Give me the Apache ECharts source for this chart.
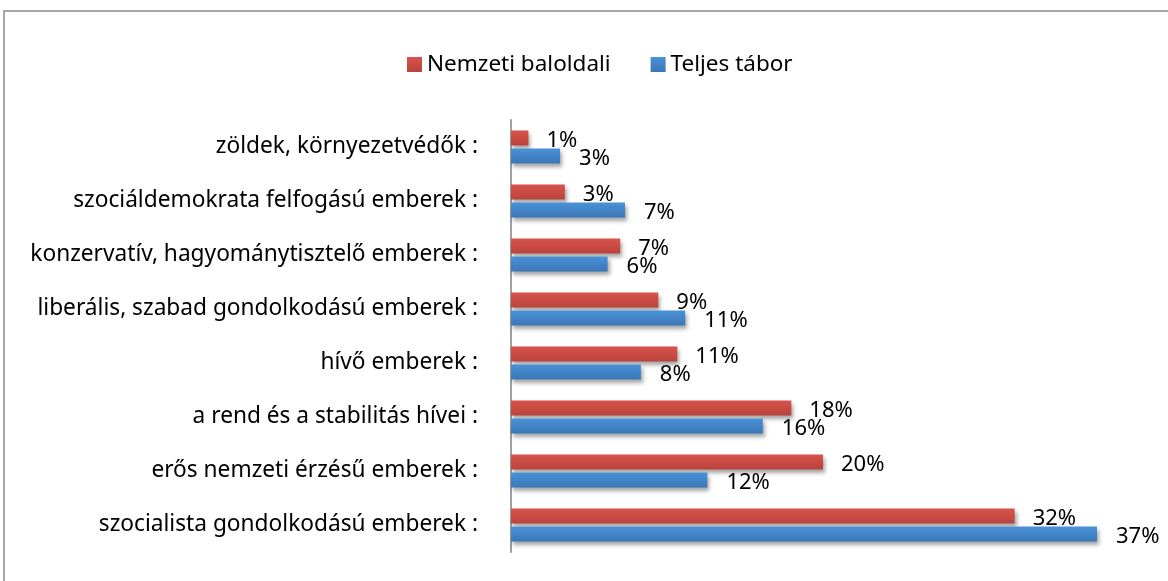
<!DOCTYPE html>
<html>
<head>
<meta charset="utf-8">
<script src="https://cdn.jsdelivr.net/npm/echarts@6/dist/echarts.min.js"></script>
<style>
  html, body { margin: 0; padding: 0; background: #fff; }
  #main { width: 1168px; height: 581px; }
</style>
</head>
<body>
<div id="main"></div>
<script>
// kategóriák felülről lefelé
const categories = [
  'zöldek, környezetvédők :',
  'szociáldemokrata felfogású emberek :',
  'konzervatív, hagyománytisztelő emberek :',
  'liberális, szabad gondolkodású emberek :',
  'hívő emberek :',
  'a rend és a stabilitás hívei :',
  'erős nemzeti érzésű emberek :',
  'szocialista gondolkodású emberek :'
]
// a feliratok kerekített értékek, a sávok hossza a képről becsülve
const nemzetiBaloldali = [1.1, 3.4, 6.9, 9.3, 10.5, 17.7, 19.7, 31.8]
const teljesTabor = [3.1, 7.2, 6.1, 11.0, 8.2, 15.9, 12.4, 37.0]

const font = 'Noto Sans'

function grad(top, bottom) {
  return new echarts.graphic.LinearGradient(0, 0, 0, 1, [
    { offset: 0, color: top },
    { offset: 1, color: bottom }
  ])
}

function pct(p) {
  return Math.round(p.value) + '%'
}

const chart = echarts.init(document.getElementById('main'), null, { renderer: 'canvas' })

const option = {
  animation: false,
  textStyle: { fontFamily: font },
  graphic: [{
    type: 'rect',
    shape: { x: 4, y: 11, width: 1200, height: 620 },
    style: { fill: 'none', stroke: '#a6a6a6', lineWidth: 2 },
    silent: true
  }],
  legend: {
    data: ['Nemzeti baloldali', 'Teljes tábor'],
    top: 48,
    left: 402,
    itemWidth: 15,
    itemHeight: 15,
    itemGap: 40,
    icon: 'rect',
    textStyle: { fontSize: 22.5, color: '#000', fontFamily: font }
  },
  grid: {
    left: 511,
    right: 71,
    top: 120,
    bottom: 29
  },
  xAxis: {
    type: 'value',
    min: 0,
    max: 37,
    show: false
  },
  yAxis: {
    type: 'category',
    inverse: true,
    data: categories,
    axisLine: { show: true, lineStyle: { color: '#a0a0a0', width: 2 } },
    axisTick: { show: false },
    axisLabel: { margin: 33, fontSize: 22.7, color: '#000', fontFamily: font }
  },
  series: [
    {
      name: 'Nemzeti baloldali',
      type: 'bar',
      data: nemzetiBaloldali,
      barWidth: 15,
      barGap: '20%',
      itemStyle: {
        color: grad('#d9534b', '#b8433c'),
        shadowColor: 'rgba(0,0,0,0.35)',
        shadowBlur: 4,
        shadowOffsetX: 2,
        shadowOffsetY: 3
      },
      label: {
        show: true,
        position: 'right',
        distance: 18,
        offset: [0, 3],
        formatter: pct,
        fontSize: 22,
        color: '#000',
        fontFamily: font
      }
    },
    {
      name: 'Teljes tábor',
      type: 'bar',
      data: teljesTabor,
      barWidth: 15,
      itemStyle: {
        color: grad('#4a92d8', '#3a76b6'),
        shadowColor: 'rgba(0,0,0,0.35)',
        shadowBlur: 4,
        shadowOffsetX: 2,
        shadowOffsetY: 3
      },
      label: {
        show: true,
        position: 'right',
        distance: 19,
        offset: [0, 3],
        formatter: pct,
        fontSize: 22,
        color: '#000',
        fontFamily: font
      }
    }
  ]
}

chart.setOption(option)
</script>
</body>
</html>
